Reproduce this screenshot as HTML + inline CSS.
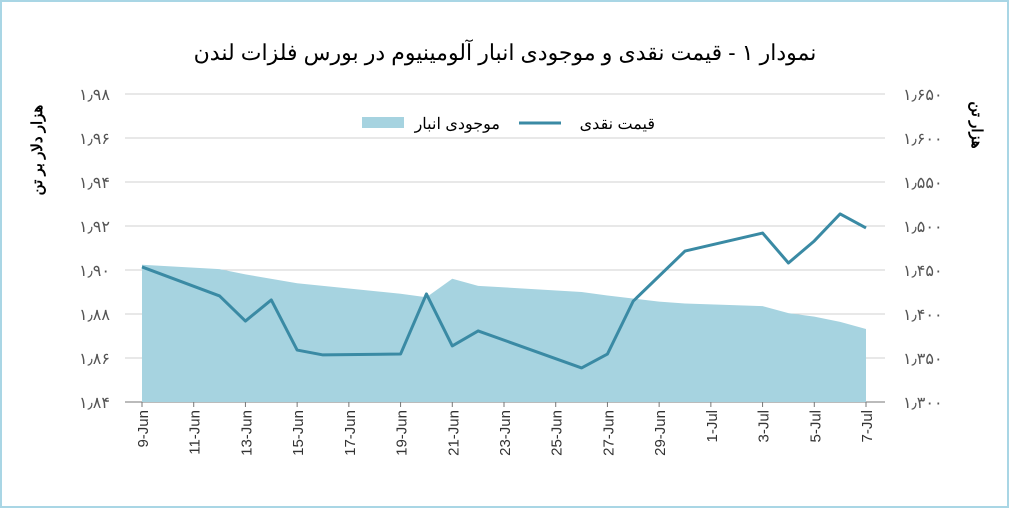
<!DOCTYPE html>
<html><head><meta charset="utf-8"><style>
body{margin:0;background:#fff;}
svg text{font-family:"Liberation Sans","Noto Sans CJK SC",sans-serif;}
</style></head><body>
<svg width="1010" height="509" xmlns="http://www.w3.org/2000/svg">
<rect x="1" y="1" width="1007" height="506" fill="#fff" stroke="#a9d6e5" stroke-width="2"/>
<text x="505" y="60" text-anchor="middle" font-size="22" fill="#000">نمودار ۱ - قیمت نقدی و موجودی انبار آلومینیوم در بورس فلزات لندن</text>
<g id="grid"></g>
<g id="area"></g>
<g id="line"></g>
<g id="axes"></g>
<text transform="translate(42,150) rotate(-90)" text-anchor="middle" font-size="15" font-weight="bold">هزار دلار بر تن</text>
<text transform="translate(972,125) rotate(90)" text-anchor="middle" font-size="15" font-weight="bold">هزار تن</text>
<g>
<rect x="362" y="117" width="42" height="11" fill="#a6d3e0"/>
<text x="500" y="129" text-anchor="end" font-size="16">موجودی انبار</text>
<line x1="519" y1="123" x2="561" y2="123" stroke="#3a8aa4" stroke-width="3"/>
<text x="655" y="129" text-anchor="end" font-size="16">قیمت نقدی</text>
</g>
</svg>
<script>
const priceDays=[0,3,4,5,6,7,10,11,12,13,17,18,19,21,24,25,26,27,28];
const priceValues=[1.9014,1.8882,1.8768,1.8864,1.8636,1.8614,1.8618,1.8891,1.8655,1.8723,1.8555,1.8618,1.8859,1.9086,1.9168,1.9032,1.9132,1.9255,1.9191];
const invDays=[0,3,4,6,8,10,11,12,13,17,18,20,21,24,25,26,27,28];
const invValues=[1456,1451,1445,1435,1429,1423,1419,1440,1432,1425,1421,1414,1412,1409,1401,1397,1391,1383];
const leftTicks=["۱٫۸۴","۱٫۸۶","۱٫۸۸","۱٫۹۰","۱٫۹۲","۱٫۹۴","۱٫۹۶","۱٫۹۸"];
const rightTicks=["۱٫۳۰۰","۱٫۳۵۰","۱٫۴۰۰","۱٫۴۵۰","۱٫۵۰۰","۱٫۵۵۰","۱٫۶۰۰","۱٫۶۵۰"];
const dateLabels=["9-Jun","11-Jun","13-Jun","15-Jun","17-Jun","19-Jun","21-Jun","23-Jun","25-Jun","27-Jun","29-Jun","1-Jul","3-Jul","5-Jul","7-Jul"];
const NS="http://www.w3.org/2000/svg";
const X0=125,X1=885,Y0=402,Y1=94;
const x=d=>142+d*(866-142)/28;
const yL=v=>Y0-(v-1.84)/(0.14)*(Y0-Y1);
const yR=v=>Y0-(v-1300)/350*(Y0-Y1);
function mk(t,a,p){const e=document.createElementNS(NS,t);for(const k in a)e.setAttribute(k,a[k]);p.appendChild(e);return e;}
const grid=document.getElementById('grid'),axes=document.getElementById('axes');
leftTicks.forEach((t,i)=>{const y=Y0-i*(Y0-Y1)/7;
 const g=mk('line',{x1:X0,x2:X1,y1:y,y2:y,stroke:i==0?'#777':'#d0d0d0','stroke-width':1},grid);
 
 
 const a=mk('text',{x:110,y:y+6,'text-anchor':'end','font-size':16,fill:'#555'},axes);a.textContent=t;
 
 
 const b=mk('text',{x:903,y:y+6,'text-anchor':'start','font-size':16,fill:'#555'},axes);b.textContent=rightTicks[i];
 
 
});
dateLabels.forEach((t,i)=>{const xx=x(i*2);
 const tk=mk('line',{x1:xx,x2:xx,y1:Y0,y2:Y0+5,stroke:'#777'},axes);
 
 
 const a=mk('text',{transform:`translate(${xx+6},${Y0+8}) rotate(-90)`,'text-anchor':'end','font-size':15,fill:'#333'},axes);a.textContent=t;
 
 
});
let d=`M${x(invDays[0])},${Y0}`;invDays.forEach((dd,i)=>d+=`L${x(dd)},${yR(invValues[i])}`);d+=`L${x(invDays[invDays.length-1])},${Y0}Z`;
const ar=mk('path',{d:d,fill:'#a6d3e0'},document.getElementById('area'));


const pl=mk('polyline',{points:priceDays.map((dd,i)=>x(dd)+','+yL(priceValues[i])).join(' '),fill:'none',stroke:'#3a8aa4','stroke-width':3,'stroke-linejoin':'round'},document.getElementById('line'));


</script>
</body></html>
